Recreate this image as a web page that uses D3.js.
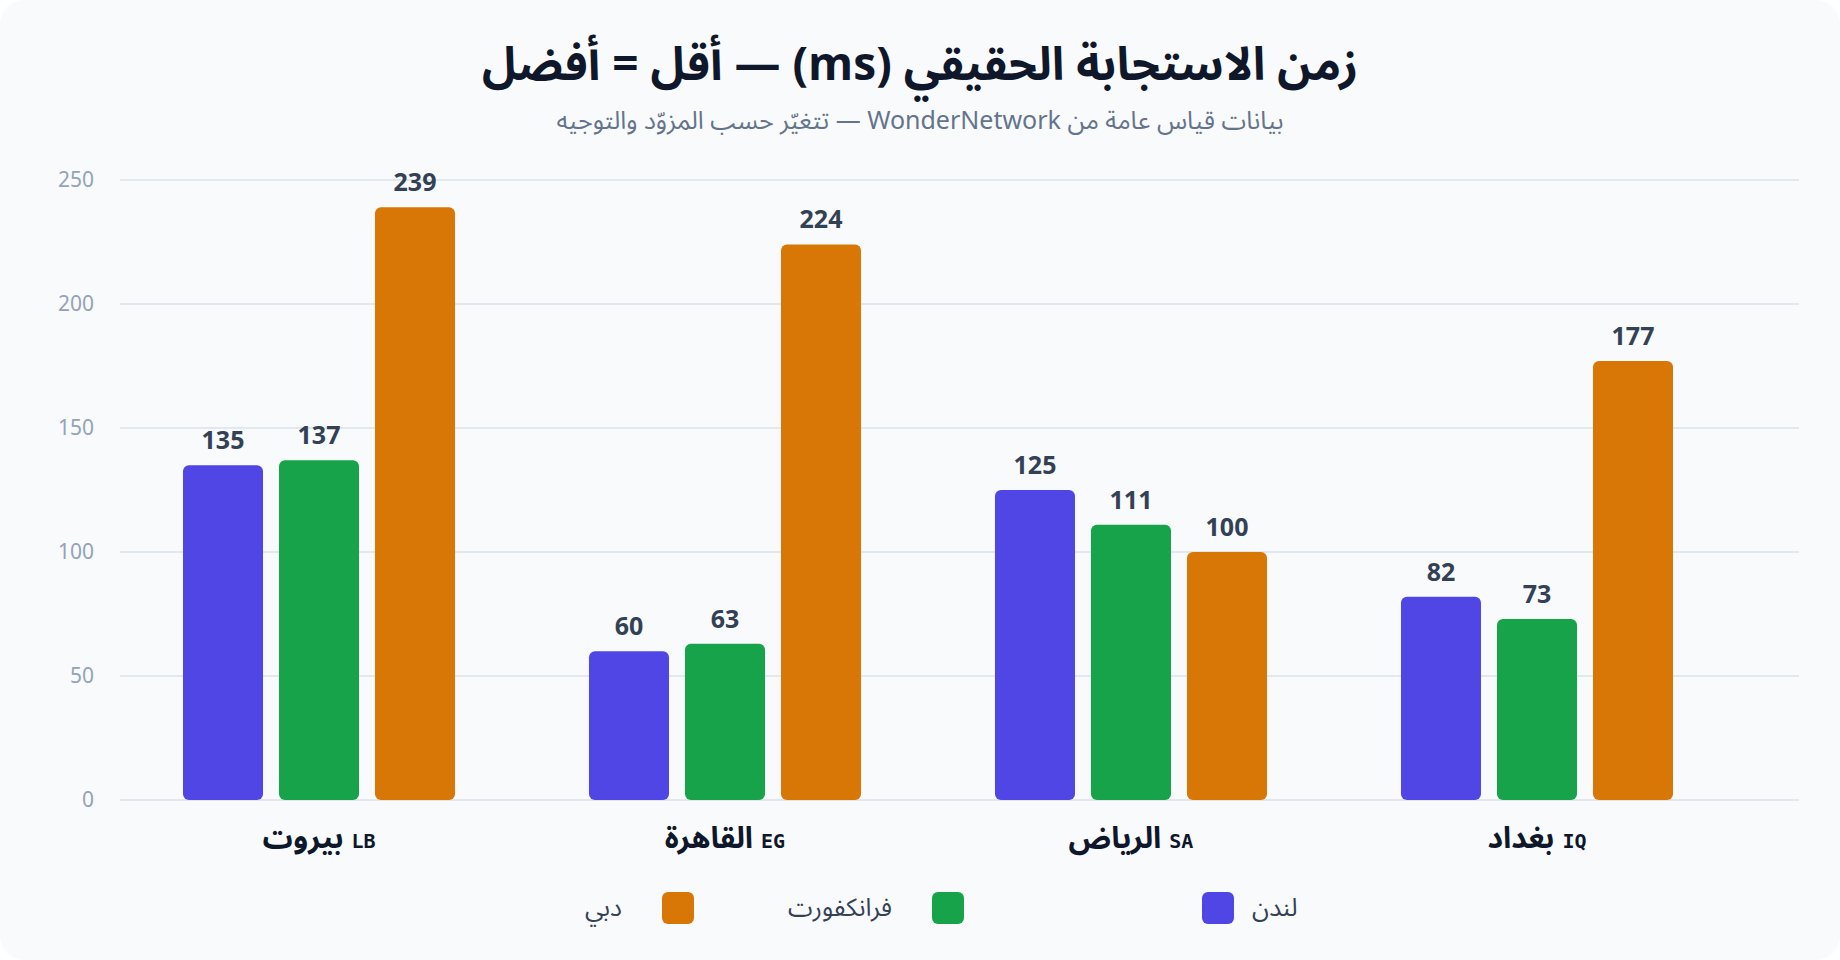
<!DOCTYPE html>
<html lang="ar">
<head>
<meta charset="utf-8">
<script src="https://cdn.jsdelivr.net/npm/d3@7/dist/d3.min.js"></script>
<style>
  html, body { margin: 0; padding: 0; background: #ffffff; }
  svg { display: block; font-family: "Noto Sans Arabic", "Noto Sans", "DejaVu Sans", sans-serif; }
</style>
</head>
<body>
<div id="chart"></div>
<script>
// data
const cities = ['بيروت', 'القاهرة', 'الرياض', 'بغداد'];
const codes = ['LB', 'EG', 'SA', 'IQ'];
const seriesNames = ['لندن', 'فرانكفورت', 'دبي'];
const london = [135, 60, 125, 82];
const frankfurt = [137, 63, 111, 73];
const dubai = [239, 224, 100, 177];
const yTicks = [0, 50, 100, 150, 200, 250];

const W = 1840, H = 960;
const colors = ['#4f46e5', '#16a34a', '#d97706'];
const values = [london, frankfurt, dubai];

const svg = d3.select('#chart').append('svg')
  .attr('width', W)
  .attr('height', H);

svg.append('rect')
  .attr('width', W).attr('height', H)
  .attr('rx', 24)
  .attr('fill', '#f8fafc');

// titles
svg.append('text')
  .attr('x', W / 2).attr('y', 80)
  .attr('direction', 'rtl')
  .attr('text-anchor', 'middle')
  .attr('font-size', 46).attr('font-weight', 700)
  .attr('fill', '#0f172a')
  .text('زمن الاستجابة الحقيقي (ms) — أقل = أفضل');

svg.append('text')
  .attr('x', W / 2).attr('y', 129)
  .attr('direction', 'rtl')
  .attr('text-anchor', 'middle')
  .attr('font-size', 25)
  .attr('fill', '#64748b')
  .text('بيانات قياس عامة من WonderNetwork — تتغيّر حسب المزوّد والتوجيه');

// scales
const gridLeft = 120, gridRight = 1799;
const y = d3.scaleLinear().domain([0, 250]).range([800, 180]);
const x0 = d3.scaleBand().domain(cities).range([183, 1673]).paddingInner(0.33).paddingOuter(0);
const x1 = d3.scaleBand().domain(seriesNames).range([0, x0.bandwidth()]).paddingInner(1 / 6);

// grid + y labels
const grid = svg.append('g');
grid.selectAll('line').data(yTicks).join('line')
  .attr('x1', gridLeft).attr('x2', gridRight)
  .attr('y1', d => y(d)).attr('y2', d => y(d))
  .attr('stroke', '#e2e8f0').attr('stroke-width', 2);

grid.selectAll('text').data(yTicks).join('text')
  .attr('x', 94).attr('y', d => y(d))
  .attr('text-anchor', 'end')
  .attr('dominant-baseline', 'central')
  .attr('font-size', 21)
  .attr('fill', '#94a3b8')
  .text(d => d);

// bars
const rows = cities.map((c, i) => ({
  city: c,
  items: seriesNames.map((s, j) => ({ s, j, v: values[j][i] }))
}));

const groups = svg.append('g').selectAll('g').data(rows).join('g')
  .attr('transform', d => `translate(${x0(d.city)},0)`);

groups.selectAll('rect').data(d => d.items).join('rect')
  .attr('x', d => x1(d.s))
  .attr('y', d => y(d.v))
  .attr('width', x1.bandwidth())
  .attr('height', d => y(0) - y(d.v))
  .attr('rx', 6)
  .attr('fill', d => colors[d.j]);

groups.selectAll('text').data(d => d.items).join('text')
  .attr('x', d => x1(d.s) + x1.bandwidth() / 2)
  .attr('y', d => y(d.v) - 16)
  .attr('text-anchor', 'middle')
  .attr('font-size', 25).attr('font-weight', 700)
  .attr('fill', '#334155')
  .text(d => d.v);

// category labels
const cat = svg.append('g').selectAll('text').data(cities).join('text')
  .attr('x', d => x0(d) + x0.bandwidth() / 2)
  .attr('y', 848)
  .attr('text-anchor', 'middle')
  .attr('font-weight', 700)
  .attr('fill', '#0f172a');
cat.append('tspan').attr('font-size', 30).text(d => d);
cat.append('tspan')
  .attr('dx', 8)
  .attr('font-family', '"DejaVu Sans Mono", monospace')
  .attr('font-size', 20)
  .text((d, i) => codes[i]);

// legend
const lx = d3.scalePoint().domain(seriesNames.slice().reverse()).range([662, 1202]);
const legend = svg.append('g').selectAll('g').data(seriesNames).join('g')
  .attr('transform', d => `translate(${lx(d)},892)`);

legend.append('rect')
  .attr('width', 32).attr('height', 32).attr('rx', 6)
  .attr('fill', (d, i) => colors[i]);

legend.append('text')
  .attr('x', (d, i) => i === 0 ? 50 : -40)
  .attr('y', 16)
  .attr('text-anchor', (d, i) => i === 0 ? 'start' : 'end')
  .attr('dominant-baseline', 'central')
  .attr('font-size', 25)
  .attr('fill', '#334155')
  .text(d => d);
</script>
</body>
</html>
